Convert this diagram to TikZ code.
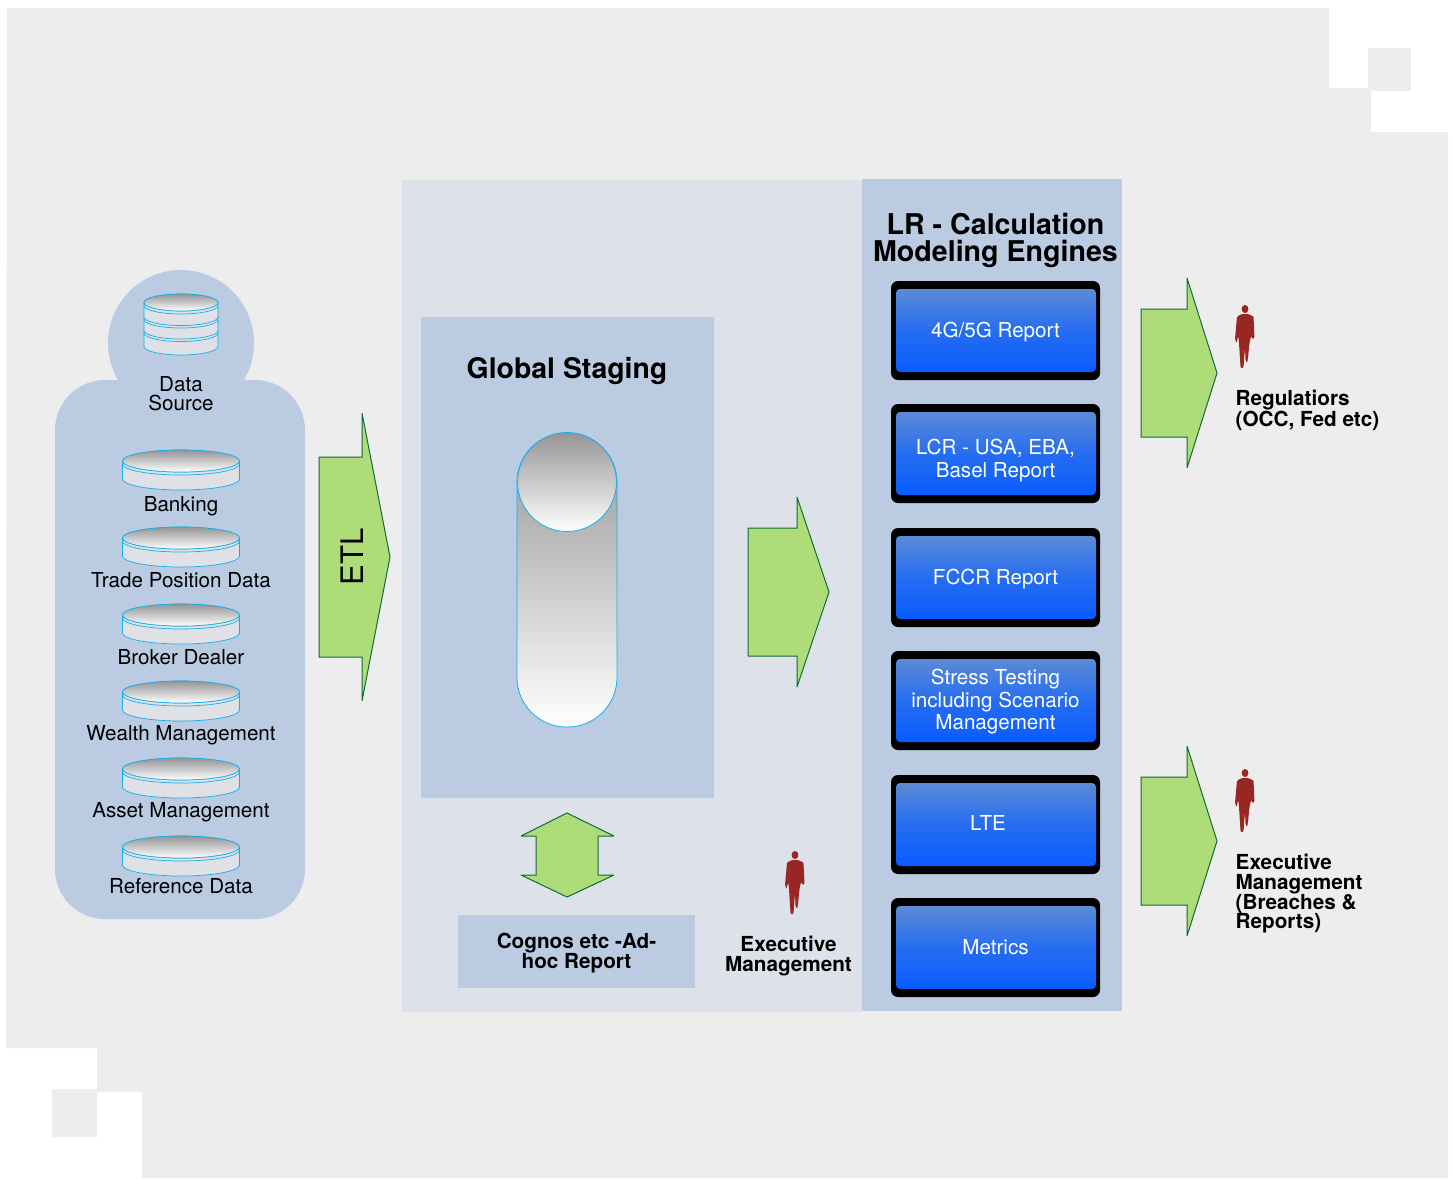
\documentclass[tikz,border=0pt]{standalone}
\usepackage{xcolor}
\usepackage{fontspec}
\setmainfont{TeX Gyre Heros}
\usepackage{tikz}
\definecolor{pagegray}{RGB}{237, 237, 237}
\definecolor{panellight}{RGB}{221, 226, 234}
\definecolor{panelblue}{RGB}{187, 203, 226}
\definecolor{arrowgreen}{RGB}{173, 220, 120}
\definecolor{arrowedge}{RGB}{15, 107, 58}
\definecolor{diskblue}{RGB}{20, 175, 235}
\definecolor{diskbody}{RGB}{223, 225, 230}
\definecolor{diskgray}{RGB}{150, 148, 148}
\definecolor{reporttop}{RGB}{92, 139, 214}
\definecolor{reportlow}{RGB}{8, 92, 255}
\definecolor{personred}{RGB}{152, 38, 34}
\newcommand{\fsz}[2]{\fontsize{#1}{#2}\selectfont}

\begin{document}
\begin{tikzpicture}[x=1pt, y=-1pt,
    blockarrow/.style={fill=arrowgreen, draw=arrowedge, line width=1pt, miter limit=4},
    panel/.style={fill=panelblue, draw=none},
    lbl/.style={inner sep=0pt, align=center, font=\fsz{20.6}{20}},
    boldlbl/.style={inner sep=0pt, align=left, font=\fsz{20.7}{19.7}\bfseries},
    reportouter/.style={fill=black, rounded corners=7pt, minimum width=209pt, minimum height=99pt, inner sep=0pt},
    reportinner/.style={top color=reporttop, bottom color=reportlow, middle color=reportlow!65!reporttop, rounded corners=4pt, minimum width=200pt, minimum height=83pt, inner sep=0pt},
    pics/diskside/.style n args={3}{code={
        \draw[fill=diskbody, draw=diskblue, line width=0.7pt] (-#1,0) -- (-#1,#3) arc[start angle=180, end angle=0, x radius=#1, y radius=#2] -- (#1,0) -- cycle;
        \draw[diskblue, line width=0.7pt] (-#1,3) arc[start angle=180, end angle=0, x radius=#1, y radius=#2];
        \draw[fill=diskbody, draw=diskblue, line width=0.7pt] (0,0) ellipse[x radius=#1, y radius=#2];
    }},
    pics/disktop/.style 2 args={code={
        \draw[top color=diskgray, middle color=diskgray!25!white, bottom color=white, draw=diskblue, line width=0.7pt] (0,0) ellipse[x radius=#1, y radius=#2];
    }},
    pics/person/.style={code={
        \fill[personred] (0,4) ellipse[x radius=3.4, y radius=4];
        \fill[personred, rounded corners=1pt] (-3,9) -- (-8,11.5) -- (-10,34) -- (-8.5,38) -- (-6.8,31) -- (-6,38) -- (-4.5,62) -- (-3,64) -- (-1.5,62) -- (0,42) -- (0.5,55) -- (2,58) -- (3,53) -- (4.5,38) -- (6,31) -- (7.5,34) -- (9.5,33) -- (8.5,11.5) -- (3,9) -- cycle;
    }}]

    % page
    \fill[white] (0,0) rectangle (1453,1178);
    \useasboundingbox (0,0) rectangle (1453,1178);
    \fill[pagegray] (7,8) -- (1329,8) -- (1329,88) -- (1371,88) -- (1371,132) -- (1448,132) -- (1448,1178) -- (142,1178) -- (142,1092) -- (97,1092) -- (97,1048) -- (6,1048) -- cycle;
    \fill[pagegray] (1368,48) rectangle (1411,91);
    \fill[pagegray] (52,1089) rectangle (97,1137);

    % panels
    \fill[panellight] (402,180) rectangle (862,1012);
    \fill[panel] (862,179) rectangle (1122,1011);
    \fill[panel] (421,317) rectangle (714,798);
    \fill[panel] (458,915) rectangle (695,988);

    % data sources
    \fill[panel] (181,343) circle (73);
    \fill[panel, rounded corners=50pt] (55,380) rectangle (305,919);
    \foreach \k/\c/\h in {3/330/16.5, 2/316.5/14, 1/302.5/14.5} {
        \pic (stack\k) at (181,\c) {diskside={37}{8.5}{\h}};
    }
    \pic (stacktop) at (181,302.5) {disktop={37}{8.5}};
    \node[lbl] (source) at (181,393.5) {Data\\[-1pt]Source};
    \foreach \n/\c/\b/\t in {1/461/511/Banking, 2/538/587/Trade Position Data, 3/615/664/Broker Dealer, 4/692/740/Wealth Management, 5/769/817/Asset Management, 6/847/893/Reference Data} {
        \pic (disk\n) at (181,\c) {diskside={58.5}{11}{18}};
        \pic (disktop\n) at (181,\c) {disktop={58.5}{11}};
        \node[lbl, anchor=base] (src\n) at (181,\b) {\t};
    }

    % arrows
    \draw[blockarrow] (319,457) -- (362,457) -- (362,413) -- (390,557) -- (362,701) -- (362,657) -- (319,657) -- cycle;
    \node[inner sep=0pt, rotate=90, font=\fsz{31}{31}] (etl) at (352,557) {ETL};
    \draw[blockarrow] (748,528) -- (797,528) -- (797,497) -- (829,592) -- (797,687) -- (797,656) -- (748,656) -- cycle;
    \draw[blockarrow] (1141,309) -- (1187,309) -- (1187,278) -- (1217,373) -- (1187,468) -- (1187,437) -- (1141,437) -- cycle;
    \draw[blockarrow] (1141,777) -- (1187,777) -- (1187,746) -- (1217,841) -- (1187,936) -- (1187,905) -- (1141,905) -- cycle;
    \draw[blockarrow] (567,813) -- (614,836) -- (598,836) -- (598,875) -- (614,875) -- (567,897) -- (521,875) -- (536,875) -- (536,836) -- (521,836) -- cycle;

    % global staging
    \node[inner sep=0pt, font=\fsz{28.4}{28.4}\bfseries] (staging) at (567,371) {Global Staging};
    \node[draw=diskblue, line width=0.8pt, top color=diskgray, bottom color=white, rounded corners=49.5pt, minimum width=100pt, minimum height=294pt, inner sep=0pt] (capsule) at (567,580) {};
    \node[draw=diskblue, line width=0.8pt, top color=diskgray, bottom color=white, circle, minimum size=99pt, inner sep=0pt] (capsuletop) at (567,482) {};
    \node[boldlbl, align=center] (cognos) at (576.5,953) {Cognos etc -Ad-\\[0.3pt]hoc Report};
    \pic (exec1) at (795,851) {person};
    \node[boldlbl, align=center] (execlabel) at (788.5,956) {Executive\\Management};

    % calculation engines
    \node[inner sep=0pt, align=center, font=\fsz{28.6}{27}\bfseries] (engines) at (995.5,240.5) {LR - Calculation\\Modeling Engines};
    \foreach \n/\c/\ty/\tx/\t in {1/330.5/332/995.5/{4G/5G Report}, 2/453.5/460.5/995.5/{LCR - USA, EBA,\\[3pt]Basel Report}, 3/577.5/579/995.5/{FCCR Report}, 4/700.5/702/995.5/{Stress Testing\\[2.5pt]including Scenario\\[2.5pt]Management}, 5/824.5/823/988/{LTE}, 6/947.5/947.5/995.5/{Metrics}} {
        \node[reportouter] (outer\n) at (995.5,\c) {};
        \node[reportinner] (inner\n) at (996,\c) {};
        \node[lbl, text=white] (report\n) at (\tx,\ty) {\t};
    }

    % readers
    \pic (reg) at (1245,305) {person};
    \node[boldlbl, anchor=north west] (regulators) at (1235.5,390) {Regulatiors\\(OCC, Fed etc)};
    \pic (exec2) at (1245,769) {person};
    \node[boldlbl, anchor=north west] (execreaders) at (1235.5,854) {Executive\\Management\\(Breaches \&\\Reports)};
\end{tikzpicture}
\end{document}
